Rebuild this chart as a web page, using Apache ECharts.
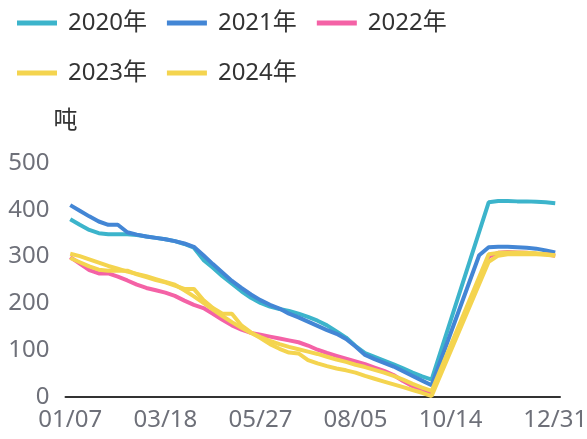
<!DOCTYPE html>
<html>
<head>
<meta charset="utf-8">
<script src="https://cdn.jsdelivr.net/npm/echarts@6/dist/echarts.min.js"></script>
<style>
  html, body { margin: 0; padding: 0; background: #fff; }
  #chart { width: 587px; height: 439px; }
</style>
</head>
<body>
<div id="chart"></div>
<script>
// Weekly dates (MM/DD), shared by every year
const weeks = [
  '01/07','01/14','01/21','01/28','02/04','02/11','02/18','02/25','03/04','03/11',
  '03/18','03/25','04/01','04/08','04/15','04/22','04/29','05/06','05/13','05/20',
  '05/27','06/03','06/10','06/17','06/24','07/01','07/08','07/15','07/22','07/29',
  '08/05','08/12','08/19','08/26','09/02','09/09','09/16','09/23','09/30','10/07',
  '10/14','10/21','10/28','11/04','11/11','11/18','11/25','12/02','12/09','12/16',
  '12/23','12/31'
];

const seriesNames = ['2020年', '2021年', '2022年', '2023年', '2024年'];

// Stock in tonnes; gaps (null) are bridged by a straight line
const y2020 = [380,368,357,350,348,348,348,346,343,340,
               337,333,327,319,293,276,258,242,226,212,
               201,193,188,184,178,171,163,153,140,127,
               109,94,86,78,70,61,52,44,37,
               null,null,null,null,null,
               416,419,419,418,418,417,416,414];
const y2021 = [410,398,386,375,368,368,352,347,343,340,
               337,333,328,321,303,284,266,248,233,219,
               207,197,189,178,170,161,152,143,135,124,
               108,90,81,73,65,55,45,35,25,
               null,null,null,null,
               303,
               320,321,321,320,319,317,313,309];
const y2022 = [299,285,271,264,264,257,249,240,233,228,
               223,216,206,197,190,178,165,153,144,137,
               133,129,125,121,117,110,101,94,88,82,
               76,70,63,56,47,34,23,15,9,
               null,null,null,null,null,
               300,308,310,309,308,306,305,302];
const y2023 = [297,288,279,272,270,270,270,262,256,250,
               245,238,231,231,207,190,178,178,153,138,
               126,113,103,95,93,79,72,66,61,57,
               52,45,39,33,27,21,15,9,2,
               null,null,null,null,null,
               289,302,305,305,305,305,304,302];
const y2024 = [306,301,294,287,280,274,268,263,258,252,
               246,240,228,215,201,187,173,160,148,137,
               128,120,113,107,102,97,92,86,80,75,
               69,64,58,52,45,37,28,20,13,
               null,null,null,null,null,
               305,308,309,309,308,307,305,303];

const yTicks = { min: 0, max: 500, step: 100 };
const colors = ['#3cb4cb', '#4386d5', '#f462a6', '#f4d44f', '#f4d44f'];
const values = [y2020, y2021, y2022, y2023, y2024];

const FONT = '"Noto Sans", "Noto Sans CJK SC", sans-serif';

const chart = echarts.init(document.getElementById('chart'), null, { renderer: 'canvas' });

chart.setOption({
  animation: false,
  color: colors,
  textStyle: { fontFamily: FONT },
  legend: {
    left: 12,
    top: 3,
    width: 470,
    itemGap: 20,
    itemWidth: 40,
    itemHeight: 5,
    icon: 'rect',
    textStyle: {
      fontSize: 24, color: '#333', fontFamily: FONT, lineHeight: 30,
      padding: [0, 0, 0, 6]
    },
    data: seriesNames
  },
  grid: {
    left: 65.5,
    right: 27,
    top: 163,
    bottom: 42,
    containLabel: false,
    outerBoundsMode: 'none'
  },
  xAxis: {
    type: 'category',
    boundaryGap: true,
    data: weeks,
    axisLine: { lineStyle: { color: '#333', width: 2 } },
    axisTick: {
      length: 8,
      lineStyle: { color: '#333', width: 2 },
      interval: (idx) => idx % 10 === 0
    },
    axisLabel: {
      fontSize: 24,
      color: '#6e7079',
      fontFamily: FONT,
      margin: 11,
      interval: (idx) => (idx % 10 === 0 && idx !== 50) || idx === weeks.length - 1
    },
    splitLine: { show: false }
  },
  yAxis: {
    type: 'value',
    min: yTicks.min,
    max: yTicks.max,
    interval: yTicks.step,
    name: '吨',
    nameGap: 30,
    nameTextStyle: { fontSize: 24, color: '#333', fontFamily: FONT },
    axisLine: { show: false },
    axisTick: { show: false },
    splitLine: { show: false },
    axisLabel: { fontSize: 24, color: '#6e7079', fontFamily: FONT, margin: 16 }
  },
  series: seriesNames.map((name, i) => ({
    name: name,
    type: 'line',
    data: values[i],
    connectNulls: true,
    showSymbol: false,
    symbol: 'none',
    lineStyle: { width: 4, color: colors[i] },
    itemStyle: { color: colors[i] }
  }))
});
</script>
</body>
</html>
